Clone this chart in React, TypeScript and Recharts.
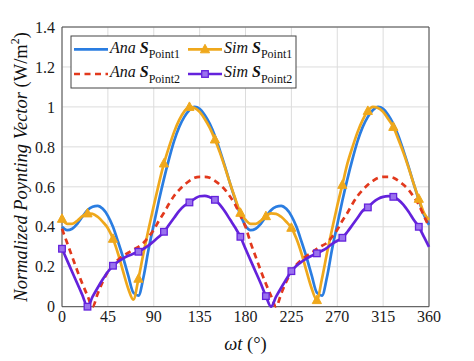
import React from "react";
import {
  LineChart,
  Line,
  XAxis,
  YAxis,
  CartesianGrid,
  ReferenceArea,
  Customized,
} from "recharts";

// ωt in degrees
const degrees = [
  0, 5, 10, 15, 20, 25, 30, 35, 40, 45, 50, 55, 60, 65, 70, 75, 80, 85, 90, 95,
  100, 105, 110, 115, 120, 125, 130, 135, 140, 145, 150, 155, 160, 165, 170, 175,
  180, 185, 190, 195, 200, 205, 210, 215, 220, 225, 230, 235, 240, 245, 250, 255,
  260, 265, 270, 275, 280, 285, 290, 295, 300, 305, 310, 315, 320, 325, 330, 335,
  340, 345, 350, 355, 360,
];

// Ana S_Point1 (blue, solid)
const anaPoint1 = [
  0.4, 0.383, 0.39, 0.415, 0.45, 0.483, 0.5, 0.505, 0.49, 0.455, 0.4, 0.325,
  0.245, 0.155, 0.07, 0.055, 0.15, 0.29, 0.41, 0.53, 0.64, 0.74, 0.83, 0.9, 0.95,
  0.985, 1.0, 0.99, 0.96, 0.915, 0.855, 0.78, 0.7, 0.615, 0.535, 0.46, 0.405,
  0.383, 0.39, 0.415, 0.45, 0.483, 0.5, 0.505, 0.49, 0.455, 0.4, 0.325, 0.245,
  0.155, 0.07, 0.055, 0.15, 0.29, 0.41, 0.53, 0.64, 0.74, 0.83, 0.9, 0.95, 0.985,
  1.0, 0.99, 0.96, 0.915, 0.855, 0.78, 0.7, 0.615, 0.535, 0.46, 0.41,
];

// Sim S_Point1 (yellow, triangles)
const simPoint1 = [
  0.44, 0.415, 0.415, 0.43, 0.453, 0.467, 0.465, 0.45, 0.425, 0.393, 0.34, 0.265,
  0.175, 0.09, 0.035, 0.14, 0.27, 0.39, 0.505, 0.615, 0.717, 0.8, 0.875, 0.935,
  0.978, 1.0, 0.995, 0.975, 0.94, 0.895, 0.837, 0.77, 0.695, 0.615, 0.54, 0.47,
  0.435, 0.415, 0.415, 0.43, 0.453, 0.467, 0.465, 0.45, 0.425, 0.395, 0.34, 0.265,
  0.175, 0.09, 0.033, 0.14, 0.27, 0.39, 0.505, 0.61, 0.717, 0.8, 0.875, 0.935,
  0.98, 1.0, 0.995, 0.975, 0.94, 0.9, 0.837, 0.77, 0.695, 0.615, 0.54, 0.47, 0.435,
];

// Ana S_Point2 (red, dashed)
const anaPoint2 = [
  0.39, 0.32, 0.25, 0.18, 0.115, 0.055, 0.0, 0.065, 0.125, 0.175, 0.21, 0.235,
  0.255, 0.27, 0.285, 0.3, 0.32, 0.35, 0.385, 0.43, 0.47, 0.515, 0.555, 0.585,
  0.61, 0.63, 0.645, 0.65, 0.65, 0.645, 0.63, 0.61, 0.585, 0.55, 0.51, 0.455, 0.4,
  0.32, 0.25, 0.18, 0.115, 0.055, 0.0, 0.065, 0.125, 0.175, 0.21, 0.235, 0.255,
  0.27, 0.29, 0.305, 0.32, 0.35, 0.385, 0.43, 0.47, 0.515, 0.555, 0.585, 0.61,
  0.63, 0.645, 0.65, 0.65, 0.645, 0.63, 0.61, 0.585, 0.55, 0.51, 0.455, 0.4,
];

// Sim S_Point2 (purple, squares)
const simPoint2 = [
  0.29, 0.232, 0.174, 0.116, 0.058, 0.0, 0.05, 0.095, 0.137, 0.175, 0.205, 0.225,
  0.242, 0.255, 0.265, 0.275, 0.29, 0.307, 0.328, 0.35, 0.375, 0.41, 0.445, 0.48,
  0.505, 0.522, 0.54, 0.553, 0.555, 0.548, 0.535, 0.51, 0.475, 0.435, 0.395, 0.35,
  0.29, 0.232, 0.174, 0.116, 0.053, 0.0, 0.05, 0.095, 0.137, 0.178, 0.205, 0.225,
  0.242, 0.255, 0.267, 0.28, 0.295, 0.315, 0.33, 0.345, 0.375, 0.41, 0.445, 0.48,
  0.497, 0.522, 0.54, 0.55, 0.553, 0.55, 0.535, 0.51, 0.475, 0.435, 0.4, 0.35, 0.3,
];

const xTicks = [0, 45, 90, 135, 180, 225, 270, 315, 360];
const yTicks = [0, 0.2, 0.4, 0.6, 0.8, 1, 1.2, 1.4];
const yTickLabels = ["0", "0.2", "0.4", "0.6", "0.8", "1", "1.2", "1.4"];

const data = degrees.map((d, i) => ({
  deg: d,
  anaP1: anaPoint1[i],
  simP1: simPoint1[i],
  anaP2: anaPoint2[i],
  simP2: simPoint2[i],
}));

const FONT = "Liberation Serif";
const BLUE = "#2a7de1";
const YELLOW = "#efa81c";
const RED = "#e2391d";
const PURPLE = "#6422dc";
const PURPLE_FILL = "#9a72ee";
const LW = 2.7;

const isMarked = (deg: number) => deg % 25 === 0 && deg <= 350;

const Triangle = ({ cx, cy }: { cx: number; cy: number }) => (
  <polygon
    points={`${cx},${cy - 5} ${cx - 4.6},${cy + 3.5} ${cx + 4.6},${cy + 3.5}`}
    fill={YELLOW}
    stroke={YELLOW}
    strokeWidth={1}
  />
);

const Square = ({ cx, cy }: { cx: number; cy: number }) => (
  <rect
    x={cx - 3.3}
    y={cy - 3.3}
    width={6.6}
    height={6.6}
    fill={PURPLE_FILL}
    stroke={PURPLE}
    strokeWidth={1.3}
  />
);

const triDot = (props: any) => {
  const { cx, cy, payload, index } = props;
  if (!isMarked(payload.deg)) return <g key={`t${index}`} />;
  return (
    <g key={`t${index}`}>
      <Triangle cx={cx} cy={cy} />
    </g>
  );
};

const sqDot = (props: any) => {
  const { cx, cy, payload, index } = props;
  if (!isMarked(payload.deg)) return <g key={`s${index}`} />;
  return (
    <g key={`s${index}`}>
      <Square cx={cx} cy={cy} />
    </g>
  );
};

const LegendEntry = ({
  x,
  y,
  name,
  point,
}: {
  x: number;
  y: number;
  name: string;
  point: string;
}) => (
  <text x={x} y={y} fontFamily={FONT} fontSize={16} fill="#111">
    <tspan fontStyle="italic">{name} </tspan>
    <tspan fontStyle="italic" fontWeight="bold">
      S
    </tspan>
    <tspan fontSize={12} dy={5.6}>
      {point}
    </tspan>
  </text>
);

const Overlay = () => (
  <g>
    {/* legend */}
    <rect x={63} y={28} width={225} height={52} fill="#fff" stroke="#444" strokeWidth={1} />
    <line x1={66} y1={41.3} x2={100} y2={41.3} stroke={BLUE} strokeWidth={LW} />
    <LegendEntry x={102} y={44.7} name="Ana" point="Point1" />
    <line x1={180} y1={41.3} x2={214} y2={41.3} stroke={YELLOW} strokeWidth={LW} />
    <Triangle cx={197} cy={41.3} />
    <LegendEntry x={216} y={44.7} name="Sim" point="Point1" />
    <line
      x1={66}
      y1={66}
      x2={100}
      y2={66}
      stroke={RED}
      strokeWidth={LW}
      strokeDasharray="6 4.5"
    />
    <LegendEntry x={102} y={69.3} name="Ana" point="Point2" />
    <line x1={180} y1={66} x2={214} y2={66} stroke={PURPLE} strokeWidth={LW} />
    <Square cx={197} cy={66} />
    <LegendEntry x={216} y={69.3} name="Sim" point="Point2" />

    {/* y-axis title */}
    <text
      x={19}
      y={158.9}
      transform="rotate(-90, 19, 158.9)"
      textAnchor="middle"
      fontFamily={FONT}
      fontSize={18.5}
      fill="#111"
    >
      <tspan fontStyle="italic">Normalized Poynting Vector</tspan>
      <tspan> (W/m</tspan>
      <tspan fontSize={12} dy={-7.5}>
        2
      </tspan>
      <tspan dy={7.5}>)</tspan>
    </text>

    {/* x-axis title */}
    <text
      x={237.5}
      y={342}
      textAnchor="middle"
      fontFamily={FONT}
      fontSize={18.5}
      fill="#111"
    >
      <tspan fontStyle="italic">ωt</tspan>
      <tspan> (°)</tspan>
    </text>
  </g>
);

export default function App() {
  return (
    <LineChart
      width={466}
      height={353}
      data={data}
      margin={{ top: 19, right: 45, bottom: 24.3, left: 0 }}
    >
      <CartesianGrid stroke="#dcdcdc" strokeWidth={1} />
      <XAxis
        dataKey="deg"
        type="number"
        domain={[0, 360]}
        ticks={xTicks}
        interval={0}
        height={30}
        axisLine={false}
        tickLine={false}
        tickSize={2}
        tickMargin={2}
        tick={{ fontFamily: FONT, fontSize: 16, fill: "#1a1a1a" }}
      />
      <YAxis
        type="number"
        domain={[0, 1.4]}
        ticks={yTicks}
        interval={0}
        width={54}
        axisLine={false}
        tickLine={false}
        tickSize={5}
        tickMargin={2}
        tickFormatter={(v: number) => yTickLabels[yTicks.indexOf(v)] ?? String(v)}
        tick={{ fontFamily: FONT, fontSize: 16, fill: "#1a1a1a" }}
      />
      <Line
        type="monotone"
        dataKey="anaP1"
        stroke={BLUE}
        strokeWidth={LW}
        dot={false}
        isAnimationActive={false}
      />
      <Line
        type="monotone"
        dataKey="simP1"
        stroke={YELLOW}
        strokeWidth={LW}
        dot={triDot}
        activeDot={false}
        isAnimationActive={false}
      />
      <Line
        type="monotone"
        dataKey="anaP2"
        stroke={RED}
        strokeWidth={LW}
        strokeDasharray="6 4.5"
        dot={false}
        isAnimationActive={false}
      />
      <Line
        type="monotone"
        dataKey="simP2"
        stroke={PURPLE}
        strokeWidth={LW}
        dot={sqDot}
        activeDot={false}
        isAnimationActive={false}
      />
      <ReferenceArea
        x1={0}
        x2={360}
        y1={0}
        y2={1.4}
        fill="none"
        fillOpacity={0}
        stroke="#4a4a4a"
        strokeWidth={1}
        ifOverflow="visible"
      />
      <Customized component={Overlay} />
    </LineChart>
  );
}
